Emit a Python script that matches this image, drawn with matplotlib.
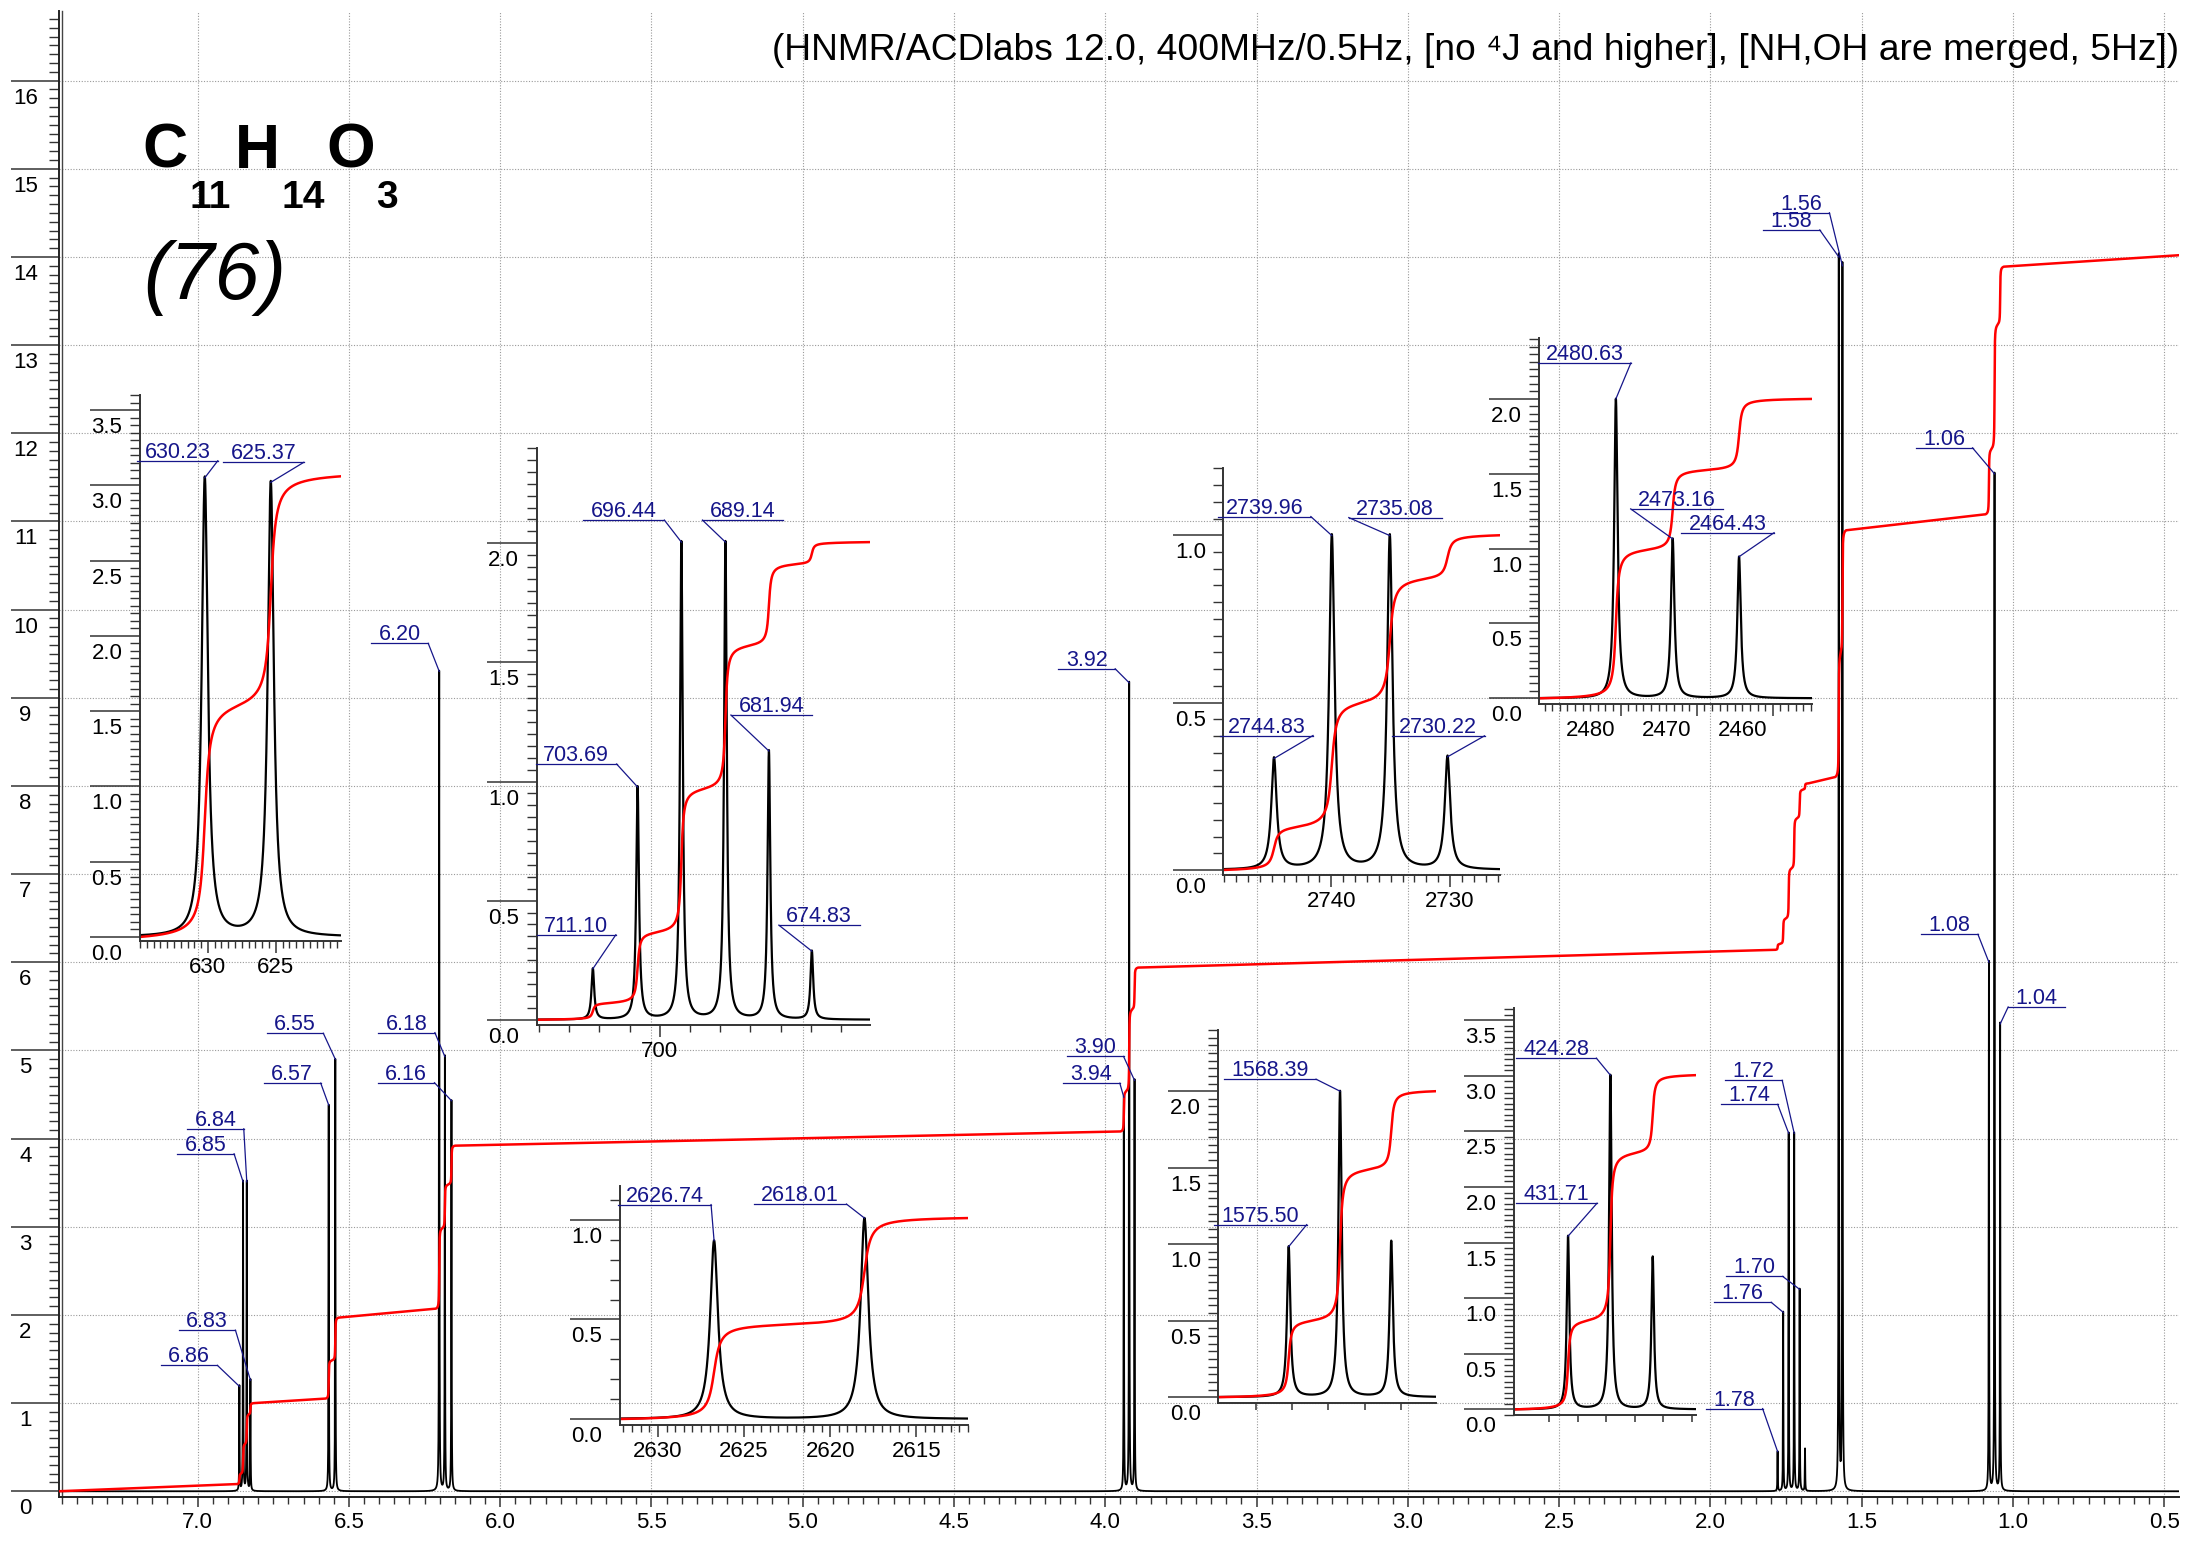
import numpy as np
import matplotlib
matplotlib.use("Agg")
import matplotlib.pyplot as plt
from matplotlib.lines import Line2D
from matplotlib.transforms import IdentityTransform, offset_copy
from matplotlib.ticker import MultipleLocator, FixedLocator, FormatStrFormatter

plt.rcParams['font.family'] = ['Liberation Sans', 'DejaVu Sans']

W, H, DPI = 2186, 1543, 100
MHZ = 400.0          # spectrometer frequency
HW = 0.27            # half width of a line, Hz
BLUE = '#16168a'
TICK_FS = 16

# ---- line positions of each multiplet (Hz) ----
hz_686 = [2744.83, 2739.96, 2735.08, 2730.22]
hz_656 = [2626.74, 2618.01]
hz_618 = [2480.63, 2473.16, 2464.43]
hz_392 = [1575.50, 1568.39, 1561.30]
hz_173 = [711.10, 703.69, 696.44, 689.14, 681.94, 674.83]
hz_157 = [630.23, 625.37]
hz_106 = [431.71, 424.28, 416.85]

# ---- peak heights on the full spectrum ----
main_686 = [1.19, 3.51, 3.51, 1.26]
main_656 = [4.38, 4.90]
main_618 = [9.30, 4.93, 4.43]
main_392 = [4.47, 9.17, 4.66]
main_173 = [0.45, 2.03, 4.06, 4.06, 2.29, 0.48]
main_157 = [14.00, 13.90]
main_106 = [6.00, 11.54, 5.30]

# ---- integral level before / after each multiplet ----
int_686 = (0.08, 1.00)
int_656 = (1.05, 1.97)
int_618 = (2.07, 3.92)
int_392 = (4.08, 5.94)
int_173 = (6.14, 8.03)
int_157 = (8.10, 10.90)
int_106 = (11.08, 13.89)
int_first, int_last = 0.0, 14.02

# ---- peak heights and integral end value in the expansions ----
zoom_686 = [0.333, 0.999, 0.999, 0.338]
zoom_656 = [0.896, 1.009]
zoom_618 = [2.00, 1.065, 0.946]
zoom_392 = [0.984, 2.00, 1.02]
zoom_173 = [0.214, 0.977, 2.005, 2.005, 1.128, 0.288]
zoom_157 = [3.05, 3.02]
zoom_106 = [1.558, 3.006, 1.372]
zint_686, zint_656, zint_618, zint_392 = 1.0, 1.009, 2.0, 2.0
zint_173, zint_157, zint_106 = 2.005, 3.06, 3.006

groups = [
    (hz_686, main_686, int_686), (hz_656, main_656, int_656),
    (hz_618, main_618, int_618), (hz_392, main_392, int_392),
    (hz_173, main_173, int_173), (hz_157, main_157, int_157),
    (hz_106, main_106, int_106),
]


def lorentz(x, centers, heights, hw):
    y = np.zeros_like(x)
    for c, h in zip(centers, heights):
        y += h / (1.0 + ((x - c) / hw) ** 2)
    return y


def px_box(l, t, r, b):
    return [l / W, 1 - b / H, (r - l) / W, (b - t) / H]


def pt(px):
    return px * 72 / DPI


fig = plt.figure(figsize=(W / DPI, H / DPI), dpi=DPI)
renderer = fig.canvas.get_renderer()


def ylabels(axis, values, fmt, fs, dx=-33, dy=-22):
    tr = offset_copy(axis.get_yaxis_transform(), fig=fig, x=pt(dx), y=pt(dy), units='points')
    for v in values:
        axis.text(0, v, fmt % v, transform=tr, ha='center', va='baseline',
                  fontsize=fs, clip_on=False)


def xlabels(axis, values, fs, dx=0, dy=-16):
    tr = offset_copy(axis.get_xaxis_transform(), fig=fig, x=pt(dx), y=pt(dy), units='points')
    for v in values:
        axis.text(v, 0, '%d' % v, transform=tr, ha='center', va='top',
                  fontsize=fs, clip_on=False)


def peak_label(axis, x, y, text, dx, dy, side, fs=15.5):
    px, py = axis.transData.transform((x, y))
    qx, qy = px + dx, py + dy
    t = fig.text(0, 0, text, transform=IdentityTransform(), color=BLUE,
                 fontsize=fs, ha='center', va='baseline', zorder=10)
    L = t.get_window_extent(renderer).width + 15
    x0, x1 = (qx - L, qx) if side == 'R' else (qx, qx + L)
    t.set_position(((x0 + x1) / 2, qy + 3))
    fig.add_artist(Line2D([x0, x1], [qy, qy], transform=IdentityTransform(),
                          color=BLUE, lw=0.9, zorder=10))
    fig.add_artist(Line2D([qx, px], [qy, py], transform=IdentityTransform(),
                          color=BLUE, lw=0.9, zorder=10))


# ================= main spectrum =================
ax = fig.add_axes(px_box(58.5, 11, 2179, 1497))
ax.set_facecolor('none')
ax.set_xlim(7.46, 0.451)
ax.set_ylim(-0.065, 16.79)
for s in ['top', 'right']:
    ax.spines[s].set_visible(False)
for s in ['left', 'bottom']:
    ax.spines[s].set_color('#222222')
    ax.spines[s].set_linewidth(1.4)
# second frame line just right of the y axis
ax.plot([0, 0], [0, 1], transform=offset_copy(ax.transAxes, fig=fig, x=pt(3.5), y=0, units='points'),
        color='#444444', lw=1.0, clip_on=False)

ax.xaxis.set_major_locator(FixedLocator(np.arange(7.0, 0.45, -0.5)))
ax.xaxis.set_major_formatter(FormatStrFormatter('%.1f'))
ax.xaxis.set_minor_locator(MultipleLocator(0.05))
ax.yaxis.set_major_locator(FixedLocator(np.arange(0, 17)))
ax.yaxis.set_minor_locator(MultipleLocator(0.1))
ax.tick_params(axis='x', which='major', direction='out', length=7.5, width=1.1,
               color='#333333', labelsize=TICK_FS, pad=3)
ax.tick_params(axis='x', which='minor', direction='out', length=5, width=1.0, color='#333333')
ax.tick_params(axis='y', which='major', direction='out', length=34.5, width=1.1,
               color='#333333', labelleft=False)
ax.tick_params(axis='y', which='minor', direction='out', length=7, width=1.0, color='#333333')
ax.grid(True, which='major', color='#9a9a9a', linestyle=(0, (1, 1.5)), lw=0.8)
ylabels(ax, range(0, 17), '%d', TICK_FS, dx=-33, dy=-23)

centers = np.concatenate([np.array(g[0]) / MHZ for g in groups])
heights = np.concatenate([g[1] for g in groups])
hw_ppm = HW / MHZ
xs = np.union1d(np.linspace(0.451, 7.46, 80000), centers)
ax.plot(xs, lorentz(xs, centers, heights, hw_ppm), color='black', lw=1.3, zorder=3)

# integral: read plateaus joined by straight segments, steps shaped by the lines
ix, iy = [7.46], [int_first]
for hz, h, (a, b) in groups:
    c = np.array(hz) / MHZ
    seg = np.linspace(c.max() + 0.012, c.min() - 0.012, 500)
    f = sum(hh * (0.5 + np.arctan((cc - seg) / hw_ppm) / np.pi) for cc, hh in zip(c, h))
    f = (f - f[0]) / (f[-1] - f[0])
    ix.extend(seg)
    iy.extend(a + (b - a) * f)
ix.append(0.451)
iy.append(int_last)
ax.plot(ix, iy, color='red', lw=1.8, zorder=4)

main_labels = [  # (group, line, dx, dy, side)
    (0, 0, -22, 21, 'R'), (0, 1, -9, 28, 'R'), (0, 2, -3, 53, 'R'), (0, 3, -15, 50, 'R'),
    (1, 0, -8, 22, 'R'), (1, 1, -12, 26, 'R'),
    (2, 0, -11, 28, 'R'), (2, 1, -10, 24, 'R'), (2, 2, -17, 18, 'R'),
    (3, 0, -4, 14, 'R'), (3, 1, -14, 14, 'R'), (3, 2, -11, 24, 'R'),
    (4, 0, -15, 43, 'R'), (4, 1, -12, 10, 'R'), (4, 2, -11, 29, 'R'),
    (4, 3, -12, 53, 'R'), (4, 4, -17, 13, 'R'),
    (5, 0, -19, 27, 'R'), (5, 1, -13, 53, 'R'),
    (6, 0, -11, 28, 'R'), (6, 1, -22, 26, 'R'), (6, 2, 8, 17, 'L'),
]
for g, i, dx, dy, side in main_labels:
    p = groups[g][0][i] / MHZ
    peak_label(ax, p, groups[g][1][i], '%.2f' % p, dx, dy, side)

# ================= expansions =================
insets = [
    dict(hz=hz_157, h=zoom_157, end=zint_157, box=(140, 395, 341, 941), xlim=(635.0, 620.2),
         ylim=(-0.027, 3.60), xmaj=[630, 625], xmin=0.5, xlab=0, ymin=0.05, ytop=3.5,
         lab=[(0, 13, 17, 'R'), (1, 33, 20, 'R')]),
    dict(hz=hz_173, h=zoom_173, end=zint_173, box=(536.7, 448, 870, 1025), xlim=(720.4, 665.2),
         ylim=(-0.022, 2.40), xmaj=[700], xmin=5, xlab=0, ymin=0.05, ytop=2.0,
         lab=[(0, 23, 34, 'R'), (1, -21, 23, 'R'), (2, -17, 22, 'R'), (3, -23, 22, 'L'),
              (4, -38, 36, 'L'), (5, -33, 26, 'L')]),
    dict(hz=hz_656, h=zoom_656, end=zint_656, box=(620, 1186, 968, 1425), xlim=(2632.2, 2612.0),
         ylim=(-0.03, 1.17), xmaj=[2630, 2625, 2620, 2615], xmin=0.5, xlab=0, ymin=0.1, ytop=1.0,
         lab=[(0, -3, 36, 'R'), (1, -18, 14, 'R')]),
    dict(hz=hz_392, h=zoom_392, end=zint_392, box=(1218.3, 1030, 1436, 1403.3), xlim=(1585.25, 1555.1),
         ylim=(-0.04, 2.40), xmaj=[1580, 1575, 1570, 1565, 1560, 1555], xmin=None, xlab=None,
         ymin=0.05, ytop=2.0, lab=[(0, 18, 22, 'R'), (1, -24, 12, 'R')]),
    dict(hz=hz_106, h=zoom_106, end=zint_106, box=(1514, 1008, 1695.7, 1415), xlim=(441.2, 409.3),
         ylim=(-0.05, 3.61), xmaj=[435, 430, 425, 420, 415, 410], xmin=None, xlab=None,
         ymin=0.05, ytop=3.5, lab=[(0, 29, 33, 'R'), (1, -14, 17, 'R')]),
    dict(hz=hz_686, h=zoom_686, end=zint_686, box=(1223.3, 468.3, 1500, 875), xlim=(2749.1, 2725.8),
         ylim=(-0.015, 1.20), xmaj=[2740, 2730], xmin=1, xlab=0, ymin=0.05, ytop=1.0,
         lab=[(0, 39, 23, 'R'), (1, -21, 19, 'R'), (2, -41, 18, 'L'), (3, 37, 21, 'R')]),
    dict(hz=hz_618, h=zoom_618, end=zint_618, box=(1539.3, 338.3, 1812.3, 704), xlim=(2490.7, 2454.8),
         ylim=(-0.038, 2.405), xmaj=[2480, 2470, 2460], xmin=1, xlab=-30, ymin=0.05, ytop=2.0,
         lab=[(0, 15, 36, 'R'), (1, -42, 30, 'L'), (2, 35, 24, 'R')]),
]

for d in insets:
    a = fig.add_axes(px_box(*d['box']))
    a.set_facecolor('none')
    a.set_zorder(2)
    a.set_xlim(*d['xlim'])
    a.set_ylim(*d['ylim'])
    for s in ['top', 'right']:
        a.spines[s].set_visible(False)
    for s in ['left', 'bottom']:
        a.spines[s].set_color('#333333')
        a.spines[s].set_linewidth(1.4)
    a.xaxis.set_major_locator(FixedLocator(d['xmaj']))
    if d['xmin']:
        a.xaxis.set_minor_locator(MultipleLocator(d['xmin']))
        a.tick_params(axis='x', which='major', length=8.5, width=1.1, color='#333333',
                      labelbottom=False)
        a.tick_params(axis='x', which='minor', length=5, width=1.0, color='#333333')
    else:
        a.tick_params(axis='x', which='major', length=5, width=1.1, color='#333333',
                      labelbottom=False)
    if d['xlab'] is not None:
        xlabels(a, d['xmaj'], TICK_FS, dx=d['xlab'], dy=-16)
    yvals = np.arange(0, d['ytop'] + 0.01, 0.5)
    a.yaxis.set_major_locator(FixedLocator(yvals))
    a.yaxis.set_minor_locator(MultipleLocator(d['ymin']))
    a.tick_params(axis='y', which='major', length=36, width=1.1, color='#333333', labelleft=False)
    a.tick_params(axis='y', which='minor', length=7, width=1.0, color='#333333')
    ylabels(a, yvals, '%.1f', TICK_FS, dx=-33, dy=-23)

    x = np.union1d(np.linspace(d['xlim'][1], d['xlim'][0], 4000), d['hz'])[::-1]
    y = lorentz(x, d['hz'], d['h'], HW)
    cum = np.concatenate([[0], np.cumsum(0.5 * (y[1:] + y[:-1]) * np.abs(np.diff(x)))])
    cum *= d['end'] / cum[-1]
    a.plot(x, y, color='black', lw=1.6)
    a.plot(x, cum, color='red', lw=1.8)
    for i, dx, dy, side in d['lab']:
        peak_label(a, d['hz'][i], d['h'][i], '%.2f' % d['hz'][i], dx, dy, side)

# ================= texts =================
def ftext(x, y, s, **kw):
    fig.text(x / W, 1 - y / H, s, ha='left', va='baseline', **kw)

fig.text(2179 / W, 1 - 50 / H,
         '(HNMR/ACDlabs 12.0, 400MHz/0.5Hz, [no \u2074J and higher], [NH,OH are merged, 5Hz])',
         ha='right', va='center', fontsize=26.8)
ftext(142, 168, 'C', fontsize=45, fontweight='bold')
ftext(189, 208, '11', fontsize=28, fontweight='bold')
ftext(235, 168, 'H', fontsize=45, fontweight='bold')
ftext(281, 208, '14', fontsize=28, fontweight='bold')
ftext(326, 168, 'O', fontsize=45, fontweight='bold')
ftext(376, 208, '3', fontsize=28, fontweight='bold')
ftext(143, 299, '(76)', fontsize=58, fontstyle='italic')

fig.savefig('out.png', dpi=DPI)
